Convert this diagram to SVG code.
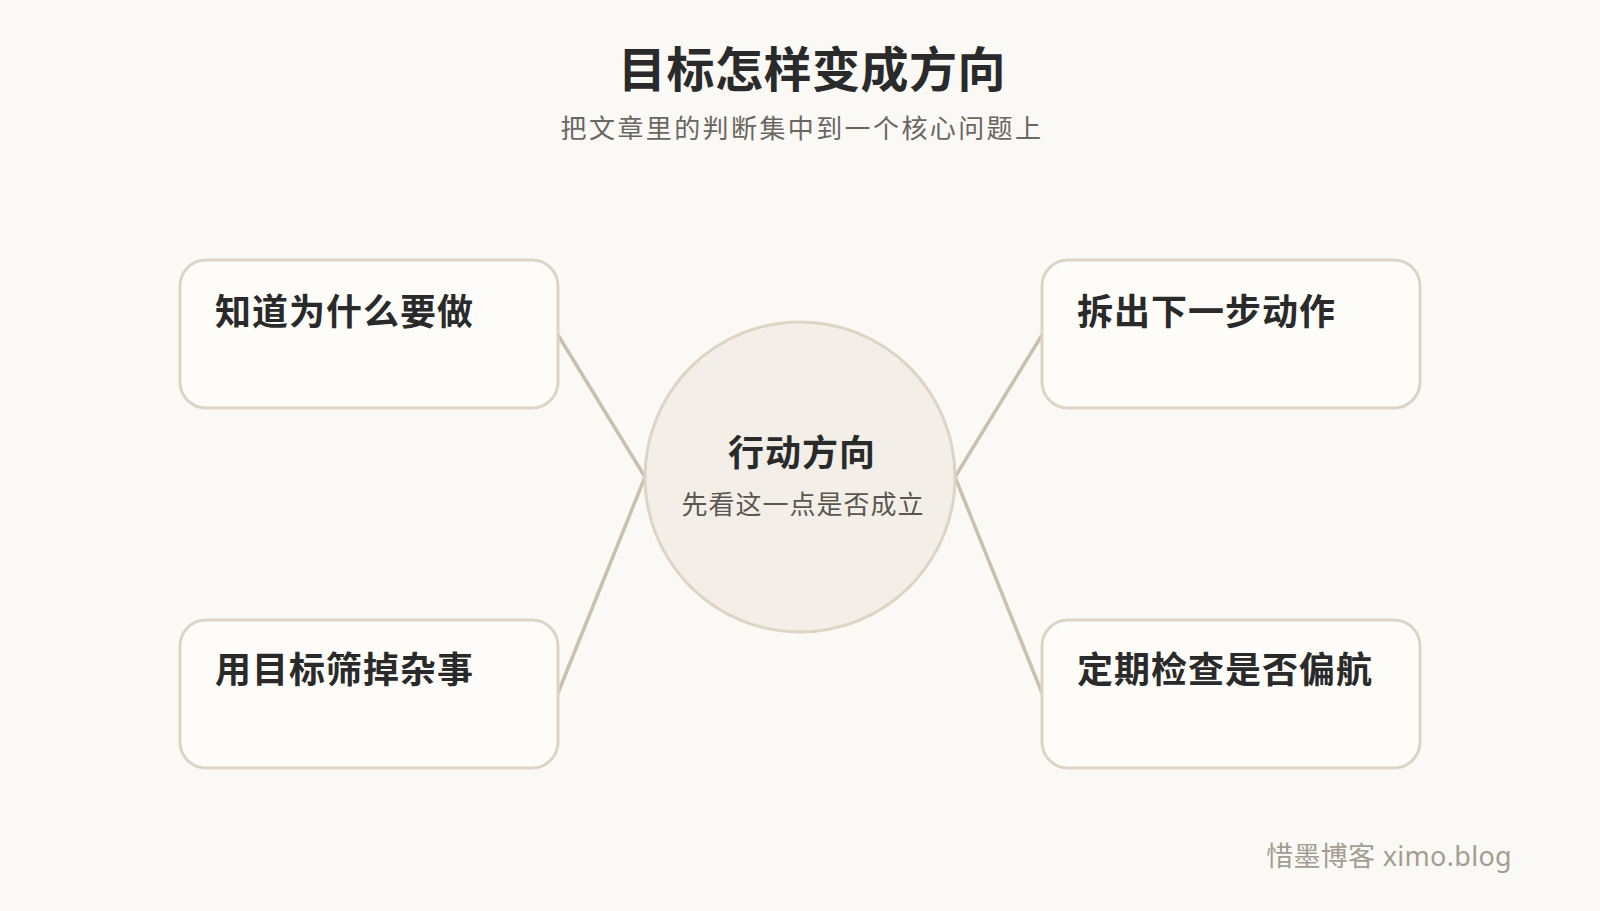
<svg xmlns="http://www.w3.org/2000/svg" width="1600" height="911" viewBox="0 0 1600 911">
<style>
text{font-family:"Noto Sans","Noto Sans CJK SC",sans-serif}
.box{fill:#fdfcf9;stroke:#ddd4c5;stroke-width:3}
.lbl{font-size:36px;font-weight:700;fill:#2a2a2a;letter-spacing:1px}
.con{stroke:#c9c0ae;stroke-width:3.5;fill:none;stroke-linecap:round}
</style>
<rect width="1600" height="911" fill="#faf9f6"/>
<text x="812" y="87" text-anchor="middle" font-size="48" font-weight="700" fill="#2a2a2a" letter-spacing="0.5">目标怎样变成方向</text>
<text x="802" y="138" text-anchor="middle" font-size="26" fill="#6b665f" letter-spacing="2.4">把文章里的判断集中到一个核心问题上</text>
<g id="connectors">
<line class="con" x1="558" y1="335" x2="645" y2="477"/>
<line class="con" x1="558" y1="693" x2="645" y2="477"/>
<line class="con" x1="1042" y1="335" x2="955" y2="477"/>
<line class="con" x1="1042" y1="693" x2="955" y2="477"/>
</g>
<g id="center">
<circle cx="800" cy="477" r="155" fill="#f3efe8" stroke="#ddd4c4" stroke-width="3"/>
<text x="802" y="466" text-anchor="middle" font-size="36" font-weight="700" fill="#2a2a2a" letter-spacing="1">行动方向</text>
<text x="803" y="514" text-anchor="middle" font-size="26" fill="#5a5650" letter-spacing="1">先看这一点是否成立</text>
</g>
<g id="node-tl">
<rect class="box" x="180" y="260" width="378" height="148" rx="26"/>
<text class="lbl" x="215" y="325">知道为什么要做</text>
</g>
<g id="node-tr">
<rect class="box" x="1042" y="260" width="378" height="148" rx="26"/>
<text class="lbl" x="1077" y="325">拆出下一步动作</text>
</g>
<g id="node-bl">
<rect class="box" x="180" y="620" width="378" height="148" rx="26"/>
<text class="lbl" x="215" y="683">用目标筛掉杂事</text>
</g>
<g id="node-br">
<rect class="box" x="1042" y="620" width="378" height="148" rx="26"/>
<text class="lbl" x="1077" y="683">定期检查是否偏航</text>
</g>
<text x="1512" y="866" text-anchor="end" font-size="27" fill="#a39d91" letter-spacing="0.3">惜墨博客 ximo.blog</text>
</svg>
